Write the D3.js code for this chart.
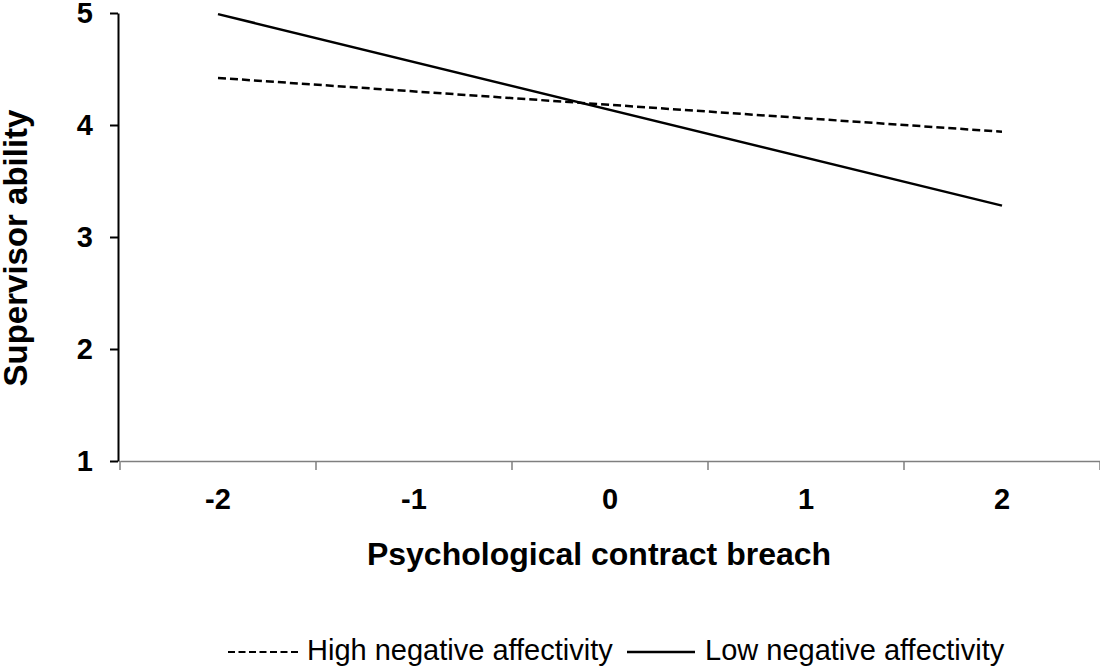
<!DOCTYPE html>
<html>
<head>
<meta charset="utf-8">
<script src="https://cdn.jsdelivr.net/npm/d3@7"></script>
<style>
  body { margin: 0; background: #fff; }
  svg { display: block; }
</style>
</head>
<body>
<div class="vis-line"></div>
<script>
// data
const breach = [-2, -1, 0, 1, 2];
const endPoints = [-2, 2];
const highNA = [4.42, 3.94];
const lowNA = [4.99, 3.28];
const yTicks = [1, 2, 3, 4, 5];
const seriesNames = ["High negative affectivity", "Low negative affectivity"];

const width = 1100, height = 669;
const plot = { left: 120, right: 1100, top: 13, bottom: 461 };
const boldFont = "Liberation Sans, Arial, sans-serif";

const svg = d3.select('.vis-line')
    .append("svg")
    .attr("width", width)
    .attr("height", height);

// X channel: band per category, ticks at band edges
let x = d3.scaleBand()
    .domain(breach)
    .range([plot.left, plot.right])
    .padding(0);
let xc = d => x(d) + x.bandwidth() / 2;

// Y channel
let y = d3.scaleLinear()
    .domain([1, 5])
    .range([plot.bottom, plot.top]);

// x axis (grey)
const xAxis = svg.append("g")
    .attr("transform", "translate(0," + plot.bottom + ")")
    .call(d3.axisBottom(x).tickSize(0).tickPadding(27));
xAxis.select(".domain").attr("stroke", "#7f7f7f").attr("stroke-width", 1.5);
xAxis.selectAll("text")
    .style("font-family", boldFont)
    .style("font-weight", "bold")
    .style("font-size", "29px")
    .attr("fill", "#000");
let edges = breach.map(d => x(d)).concat([x(breach[breach.length - 1]) + x.bandwidth()]);
xAxis.selectAll(".edge")
    .data(edges)
    .enter()
    .append("line")
    .attr("class", "edge")
    .attr("x1", d => d).attr("x2", d => d)
    .attr("y1", 0).attr("y2", 9)
    .attr("stroke", "#7f7f7f")
    .attr("stroke-width", 1.5);

// y axis (black)
const yAxis = svg.append("g")
    .attr("transform", "translate(" + (plot.left - 2) + ",0)")
    .call(d3.axisLeft(y).tickValues(yTicks).tickFormat(d3.format("d")).tickSize(8).tickSizeOuter(0).tickPadding(17));
yAxis.select(".domain").attr("stroke", "#000").attr("stroke-width", 2);
yAxis.selectAll(".tick line").attr("stroke", "#000").attr("stroke-width", 2);
yAxis.selectAll("text")
    .style("font-family", boldFont)
    .style("font-weight", "bold")
    .style("font-size", "29px")
    .attr("fill", "#000");

// axis titles
svg.append("text")
    .attr("x", 599)
    .attr("y", 565)
    .attr("text-anchor", "middle")
    .style("font-family", boldFont)
    .style("font-weight", "bold")
    .style("font-size", "32px")
    .text("Psychological contract breach");
svg.append("text")
    .attr("transform", "translate(27,248)rotate(-90)")
    .attr("text-anchor", "middle")
    .style("font-family", boldFont)
    .style("font-weight", "bold")
    .style("font-size", "33px")
    .text("Supervisor ability");

// lines
const line = d3.line()
    .x(d => xc(d[0]))
    .y(d => y(d[1]));
svg.append("path")
    .datum(endPoints.map((d, i) => [d, highNA[i]]))
    .attr("d", line)
    .attr("fill", "none")
    .attr("stroke", "#000")
    .attr("stroke-width", 2.5)
    .attr("stroke-dasharray", "8,4");
svg.append("path")
    .datum(endPoints.map((d, i) => [d, lowNA[i]]))
    .attr("d", line)
    .attr("fill", "none")
    .attr("stroke", "#000")
    .attr("stroke-width", 2.5);

// legend
const legend = svg.append("g");
legend.append("line")
    .attr("x1", 228).attr("x2", 298)
    .attr("y1", 652).attr("y2", 652)
    .attr("stroke", "#000").attr("stroke-width", 2)
    .attr("stroke-dasharray", "7,3.5");
legend.append("text")
    .attr("x", 307).attr("y", 660)
    .style("font-family", boldFont)
    .style("font-size", "29px")
    .text(seriesNames[0]);
legend.append("line")
    .attr("x1", 627).attr("x2", 695)
    .attr("y1", 652).attr("y2", 652)
    .attr("stroke", "#000").attr("stroke-width", 2.5);
legend.append("text")
    .attr("x", 705).attr("y", 660)
    .style("font-family", boldFont)
    .style("font-size", "29px")
    .text(seriesNames[1]);
</script>
</body>
</html>
